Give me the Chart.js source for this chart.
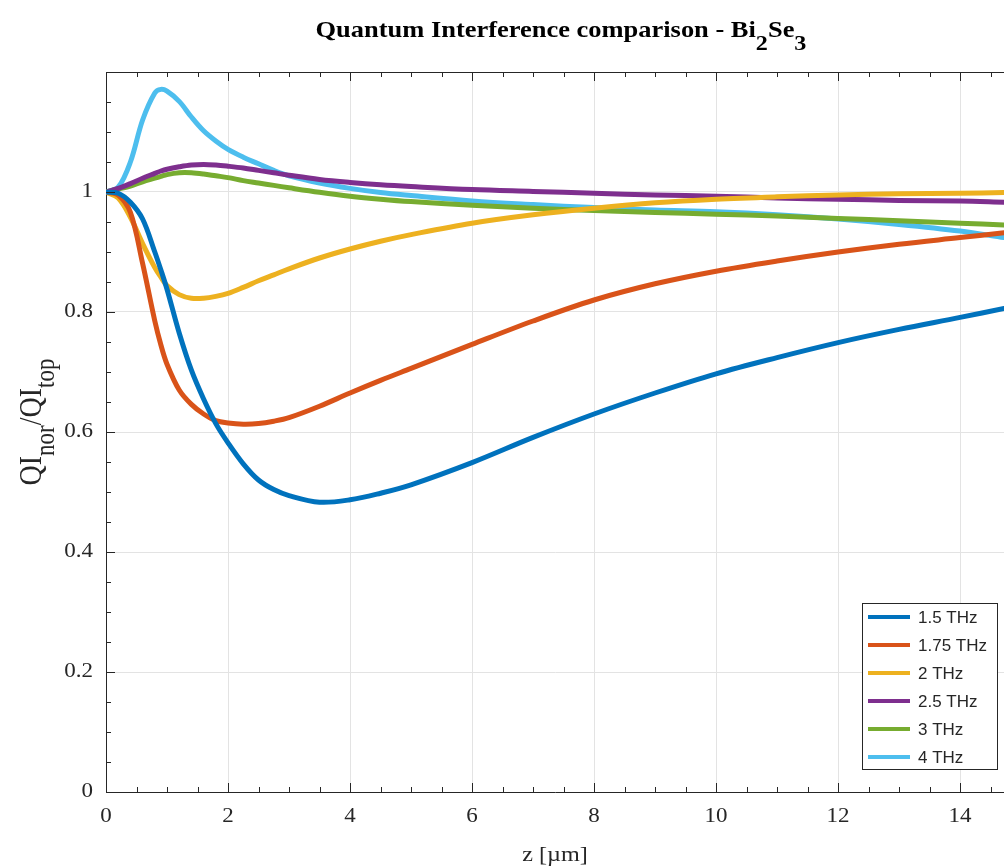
<!DOCTYPE html>
<html>
<head>
<meta charset="utf-8">
<script src="https://cdn.jsdelivr.net/npm/chart.js@4/dist/chart.umd.min.js"></script>
<style>
  html, body { margin: 0; padding: 0; background: #fff; }
  canvas { display: block; }
</style>
</head>
<body>
<canvas id="qiChart" width="1004" height="866"></canvas>
<script>
// z positions [um] shared by every curve
const zPoints = [0, 0.2, 0.4, 0.6, 0.8, 0.9, 1.0, 1.2, 1.4, 1.6, 1.8, 2.0, 2.25, 2.5, 2.75, 3, 3.5, 4, 4.5, 5, 6, 7, 8, 9, 10, 11, 12, 13, 14, 14.72];

// QI_nor / QI_top
const qi1p5 = [1.0, 0.998, 0.983, 0.955, 0.90, 0.87, 0.838, 0.765, 0.703, 0.655, 0.614, 0.582, 0.547, 0.520, 0.504, 0.494, 0.483, 0.487, 0.498, 0.512, 0.549, 0.591, 0.630, 0.665, 0.697, 0.724, 0.749, 0.771, 0.791, 0.806];
const qi1p75 = [1.0, 0.995, 0.966, 0.881, 0.785, 0.745, 0.713, 0.670, 0.646, 0.630, 0.619, 0.615, 0.613, 0.614, 0.618, 0.624, 0.643, 0.665, 0.686, 0.706, 0.746, 0.785, 0.820, 0.847, 0.868, 0.885, 0.900, 0.913, 0.924, 0.932];
const qi2 = [1.0, 0.990, 0.958, 0.914, 0.874, 0.858, 0.844, 0.829, 0.823, 0.823, 0.826, 0.831, 0.841, 0.852, 0.862, 0.872, 0.890, 0.905, 0.918, 0.929, 0.948, 0.962, 0.973, 0.982, 0.988, 0.992, 0.995, 0.997, 0.998, 0.999];
const qi2p5 = [1.0, 1.006, 1.014, 1.023, 1.031, 1.035, 1.038, 1.042, 1.045, 1.046, 1.045, 1.043, 1.040, 1.036, 1.032, 1.028, 1.021, 1.016, 1.012, 1.009, 1.004, 1.001, 0.998, 0.995, 0.993, 0.990, 0.988, 0.986, 0.985, 0.983];
const qi3 = [1.0, 1.005, 1.010, 1.017, 1.023, 1.026, 1.029, 1.032, 1.032, 1.030, 1.027, 1.024, 1.019, 1.015, 1.011, 1.007, 0.9995, 0.993, 0.988, 0.984, 0.978, 0.973, 0.969, 0.966, 0.963, 0.960, 0.956, 0.952, 0.948, 0.945];
const qi4 = [1.0, 1.008, 1.050, 1.120, 1.165, 1.171, 1.168, 1.151, 1.125, 1.102, 1.085, 1.071, 1.058, 1.047, 1.036, 1.027, 1.015, 1.006, 0.999, 0.994, 0.985, 0.979, 0.974, 0.970, 0.967, 0.962, 0.955, 0.946, 0.935, 0.924];

const seriesLabels = ['1.5 THz', '1.75 THz', '2 THz', '2.5 THz', '3 THz', '4 THz'];
const seriesValues = [qi1p5, qi1p75, qi2, qi2p5, qi3, qi4];
const seriesColors = ['#0072BD', '#D95319', '#EDB120', '#7E2F8E', '#77AC30', '#4DBEEE'];

// axis ticks
const xTickValues = [0, 2, 4, 6, 8, 10, 12, 14];
const yTickValues = [0, 0.2, 0.4, 0.6, 0.8, 1];
const yTickLabels = ['0', '0.2', '0.4', '0.6', '0.8', '1'];

const SERIF = '"Liberation Serif", "Times New Roman", serif';
const SANS = '"Liberation Sans", Arial, sans-serif';
const INK = '#262626';
const STRETCH = 1.15;

// text made of normal and subscript pieces, centred on (x, y) baseline
function drawRich(ctx, parts, x, y, size, subSize, bold, sx, subDrop) {
    const w = bold ? 'bold ' : '';
    let total = 0;
    parts.forEach(p => {
        ctx.font = w + (p.sub ? subSize : size) + 'px ' + SERIF;
        p.w = ctx.measureText(p.t).width;
        total += p.w;
    });
    ctx.save();
    ctx.translate(x, y);
    ctx.scale(sx, 1);
    let cx = -total / 2;
    ctx.textAlign = 'left';
    ctx.textBaseline = 'alphabetic';
    parts.forEach(p => {
        ctx.font = w + (p.sub ? subSize : size) + 'px ' + SERIF;
        ctx.fillText(p.t, cx, p.sub ? subDrop : 0);
        cx += p.w;
    });
    ctx.restore();
}

const decorations = {
    id: 'decorations',
    afterDraw(chart) {
        const ctx = chart.ctx;
        const area = chart.chartArea;
        const xs = chart.scales.x;
        const ys = chart.scales.y;
        ctx.save();
        ctx.fillStyle = INK;
        ctx.strokeStyle = INK;
        ctx.lineWidth = 1;

        // top box edge
        ctx.beginPath();
        ctx.moveTo(area.left, area.top + 0.5);
        ctx.lineTo(area.right, area.top + 0.5);
        ctx.stroke();

        // inward tick marks (major + minor)
        ctx.beginPath();
        for (let v = 0; v <= xs.max + 1e-9; v += 0.5) {
            const px = Math.round(xs.getPixelForValue(v)) + 0.5;
            const len = Math.abs(v / 2 - Math.round(v / 2)) < 1e-6 ? 9 : 5;
            ctx.moveTo(px, area.bottom); ctx.lineTo(px, area.bottom - len);
            ctx.moveTo(px, area.top); ctx.lineTo(px, area.top + len);
        }
        for (let v = 0; v <= ys.max + 1e-9; v += 0.05) {
            const py = Math.round(ys.getPixelForValue(v)) + 0.5;
            const len = Math.abs(v / 0.2 - Math.round(v / 0.2)) < 1e-6 ? 9 : 5;
            ctx.moveTo(area.left, py); ctx.lineTo(area.left + len, py);
        }
        ctx.stroke();

        // tick labels
        ctx.font = '20px ' + SERIF;
        ctx.textBaseline = 'middle';
        xs.ticks.forEach(t => {
            ctx.save();
            ctx.translate(xs.getPixelForValue(t.value), area.bottom + 25);
            ctx.scale(STRETCH, 1);
            ctx.textAlign = 'center';
            ctx.fillText(String(t.value), 0, 0);
            ctx.restore();
        });
        ys.ticks.forEach((t, i) => {
            ctx.save();
            ctx.translate(area.left - 13, ys.getPixelForValue(t.value));
            ctx.scale(STRETCH, 1);
            ctx.textAlign = 'right';
            ctx.fillText(yTickLabels[i], 0, 0);
            ctx.restore();
        });

        // title
        ctx.fillStyle = '#000';
        drawRich(ctx, [
            { t: 'Quantum Interference comparison - Bi' }, { t: '2', sub: true },
            { t: 'Se' }, { t: '3', sub: true }
        ], 561, 37, 23, 21, true, STRETCH, 13);

        // axis labels
        ctx.fillStyle = INK;
        drawRich(ctx, [{ t: 'z [\u00b5m]' }], 555, 861, 21, 16, false, STRETCH, 0);
        ctx.save();
        ctx.translate(41, 422);
        ctx.rotate(-Math.PI / 2);
        ctx.scale(1, STRETCH);
        drawRich(ctx, [
            { t: 'QI' }, { t: 'nor', sub: true }, { t: '/QI' }, { t: 'top', sub: true }
        ], 0, 0, 28, 23, false, 1, 11);
        ctx.restore();

        // legend box
        const lx = 862, ly = 603, lw = 135, lh = 166;
        ctx.fillStyle = '#fff';
        ctx.fillRect(lx, ly, lw, lh);
        ctx.strokeStyle = INK;
        ctx.lineWidth = 1;
        ctx.strokeRect(lx + 0.5, ly + 0.5, lw, lh);
        ctx.font = '17px ' + SANS;
        ctx.textAlign = 'left';
        ctx.textBaseline = 'middle';
        chart.data.datasets.forEach((ds, i) => {
            const y = ly + 14 + i * 28;
            ctx.strokeStyle = ds.borderColor;
            ctx.lineWidth = 4;
            ctx.beginPath();
            ctx.moveTo(lx + 6, y);
            ctx.lineTo(lx + 48, y);
            ctx.stroke();
            ctx.fillStyle = INK;
            ctx.fillText(ds.label, lx + 56, y + 1);
        });
        ctx.restore();
    }
};

const datasets = seriesValues.map((vals, i) => ({
    label: seriesLabels[i],
    data: zPoints.map((z, j) => ({ x: z, y: vals[j] })),
    borderColor: seriesColors[i],
    backgroundColor: seriesColors[i],
    borderWidth: 5,
    borderCapStyle: 'round',
    borderJoinStyle: 'round',
    pointRadius: 0,
    fill: false,
    tension: 0.35
}));

new Chart(document.getElementById('qiChart').getContext('2d'), {
    type: 'line',
    data: { datasets: datasets },
    options: {
        responsive: false,
        animation: false,
        devicePixelRatio: 1,
        layout: { padding: { top: 72, right: 0, bottom: 0, left: 0 } },
        plugins: {
            legend: { display: false },
            title: { display: false },
            tooltip: { enabled: false }
        },
        scales: {
            x: {
                type: 'linear',
                min: 0,
                max: 14.72,
                ticks: { display: false },
                afterBuildTicks: s => { s.ticks = xTickValues.map(v => ({ value: v })); },
                afterFit: s => { s.height = 74; },
                grid: { color: '#e3e3e3', drawTicks: false },
                border: { color: INK, width: 1 }
            },
            y: {
                min: 0,
                max: 1.2,
                ticks: { display: false },
                afterBuildTicks: s => { s.ticks = yTickValues.map(v => ({ value: v })); },
                afterFit: s => { s.width = 106; },
                grid: { color: '#e3e3e3', drawTicks: false },
                border: { color: INK, width: 1 }
            }
        }
    },
    plugins: [decorations]
});
</script>
</body>
</html>
